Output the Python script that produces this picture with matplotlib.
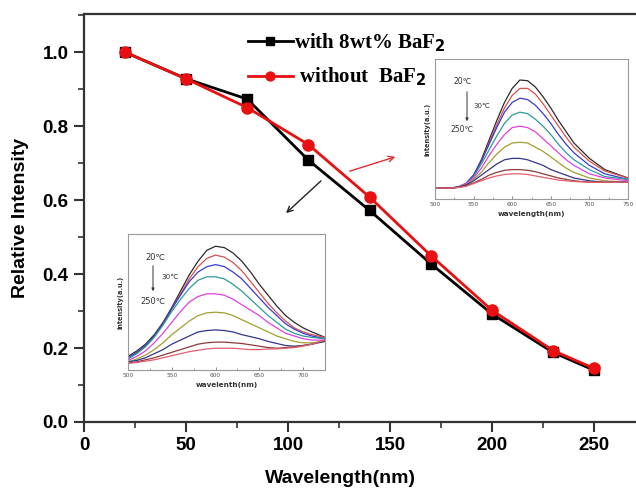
import matplotlib
matplotlib.use("Agg")
import matplotlib.pyplot as plt
from matplotlib.ticker import MultipleLocator

# ---- main data ----
x_temp = [20, 50, 80, 110, 140, 170, 200, 230, 250]
with_baf2 = [1.0, 0.928, 0.873, 0.708, 0.572, 0.428, 0.292, 0.188, 0.140]
without_baf2 = [1.0, 0.928, 0.850, 0.750, 0.608, 0.450, 0.302, 0.193, 0.145]

x_ticks = [0, 50, 100, 150, 200, 250]
y_ticks = [0.0, 0.2, 0.4, 0.6, 0.8, 1.0]

spec_colors = ['#2b2b2b', '#d8514a', '#3a3ad0', '#2e9a9a', '#e040e0',
               '#a0a030', '#34348e', '#8e3a3a', '#e06070']

# ---- upper inset spectra (without BaF2) ----
wl_up = [500, 520, 530, 540, 550, 560, 570, 580, 590, 600, 610, 620, 630,
         640, 650, 660, 670, 680, 700, 720, 750]
up_black = [.076, .078, .085, .11, .17, .28, .42, .56, .69, .79, .85, .845, .80, .73, .65, .56, .48, .40, .29, .21, .15]
up_red = [.076, .078, .085, .11, .17, .27, .40, .53, .65, .74, .79, .79, .75, .68, .60, .52, .44, .37, .27, .20, .15]
up_blue = [.076, .078, .085, .11, .17, .27, .39, .51, .62, .69, .72, .71, .67, .61, .54, .46, .39, .33, .24, .18, .14]
up_teal = [.076, .078, .085, .11, .16, .25, .35, .45, .54, .60, .62, .61, .57, .52, .46, .39, .33, .28, .21, .16, .14]
up_magenta = [.076, .078, .085, .11, .15, .22, .31, .39, .46, .51, .52, .51, .48, .43, .38, .33, .28, .24, .18, .15, .13]
up_olive = [.076, .078, .085, .10, .14, .19, .26, .32, .37, .40, .405, .40, .37, .34, .30, .26, .22, .19, .15, .13, .12]
up_navy = [.076, .078, .085, .10, .13, .17, .21, .25, .28, .29, .29, .28, .26, .24, .21, .19, .17, .15, .13, .12, .12]
up_brown = [.076, .078, .083, .095, .115, .14, .17, .19, .205, .21, .21, .205, .195, .18, .165, .15, .14, .13, .12, .12, .12]
up_pink = [.076, .078, .082, .09, .11, .13, .15, .165, .175, .18, .18, .175, .165, .155, .145, .135, .13, .125, .12, .12, .12]
up_series = [up_black, up_red, up_blue, up_teal, up_magenta, up_olive, up_navy, up_brown, up_pink]

# ---- lower inset spectra (with BaF2) ----
wl_lo = [500, 510, 520, 530, 540, 550, 560, 570, 580, 590, 600, 610, 620,
         630, 640, 650, 660, 670, 680, 690, 700, 710, 725]
lo_black = [.10, .14, .19, .26, .35, .46, .58, .70, .80, .88, .91, .90, .86, .80, .72, .63, .55, .47, .40, .35, .31, .28, .24]
lo_red = [.09, .13, .18, .25, .34, .45, .56, .67, .76, .82, .845, .83, .79, .73, .65, .57, .49, .42, .36, .31, .28, .26, .24]
lo_blue = [.09, .13, .18, .25, .34, .45, .55, .65, .72, .76, .775, .76, .72, .67, .60, .53, .46, .40, .34, .30, .27, .25, .23]
lo_teal = [.08, .12, .17, .24, .33, .43, .52, .60, .66, .685, .685, .67, .63, .58, .52, .46, .40, .35, .30, .27, .25, .24, .23]
lo_magenta = [.07, .10, .14, .20, .27, .35, .43, .50, .54, .56, .56, .55, .52, .48, .44, .40, .35, .31, .27, .25, .23, .22, .22]
lo_olive = [.06, .08, .11, .15, .20, .26, .31, .36, .40, .42, .425, .42, .40, .37, .34, .31, .28, .25, .23, .21, .20, .20, .21]
lo_navy = [.06, .07, .09, .12, .15, .19, .22, .25, .28, .29, .295, .29, .28, .26, .245, .23, .21, .195, .18, .175, .18, .19, .21]
lo_brown = [.05, .06, .075, .09, .11, .13, .15, .17, .19, .20, .205, .205, .20, .195, .185, .175, .165, .16, .165, .17, .18, .19, .22]
lo_pink = [.05, .055, .065, .075, .09, .105, .12, .135, .145, .155, .16, .16, .16, .155, .15, .15, .155, .155, .16, .165, .175, .19, .22]
lo_series = [lo_black, lo_red, lo_blue, lo_teal, lo_magenta, lo_olive, lo_navy, lo_brown, lo_pink]

W, H = 636, 491
fig = plt.figure(figsize=(W / 100, H / 100), dpi=100)
fig.patch.set_facecolor('white')


def fx(px):
    return px / W


def fy(py):
    return 1 - py / H


sans = 'Liberation Sans'
serif = 'Liberation Serif'

ax = fig.add_axes([fx(84), fy(422), (640 - 84) / W, (422 - 14) / H])
xmax = (640 - 84) / 2.04
ax.set_xlim(0, xmax)
ax.set_ylim(0, 1.103)
ax.spines['right'].set_visible(False)
for s in ['left', 'bottom', 'top']:
    ax.spines[s].set_linewidth(1.6)
    ax.spines[s].set_color('#333333')

ax.plot(x_temp, with_baf2, color='black', lw=2.0, marker='s', ms=7,
        label='with 8wt% BaF$_\\mathbf{2}$', zorder=3)
ax.plot(x_temp, without_baf2, color='#e81010', lw=2.0, marker='o', ms=8,
        label=' without  BaF$_\\mathbf{2}$', zorder=3)

ax.set_xticks(x_ticks)
ax.set_yticks(y_ticks)
ax.set_yticklabels(['%.1f' % v for v in y_ticks])
ax.xaxis.set_minor_locator(MultipleLocator(25))
ax.yaxis.set_minor_locator(MultipleLocator(0.1))
ax.tick_params(which='major', direction='out', length=7, width=1.5, color='#333333',
               labelsize=13.5, pad=4)
ax.tick_params(which='minor', direction='out', length=4, width=1.2, color='#333333')
ax.tick_params(top=False, which='both')
for lab in ax.get_xticklabels() + ax.get_yticklabels():
    lab.set_fontfamily(sans)
    lab.set_fontweight('bold')
ax.set_xlabel('Wavelength(nm)', fontsize=14, fontweight='bold', family=sans)
ax.set_ylabel('Relative Intensity', fontsize=14, fontweight='bold', family=sans, labelpad=10)
ax.xaxis.set_label_coords((340 - 84) / (640 - 84), -(470 - 422) / (422 - 14))

leg = ax.legend(loc='upper left', bbox_to_anchor=(fx(229), fy(13)),
                bbox_transform=fig.transFigure, frameon=False,
                prop={'family': serif, 'weight': 'bold', 'size': 15},
                handlelength=2.15, handletextpad=0.05, labelspacing=0.55,
                markerscale=0.8)

# arrows in main plot
ax.annotate('', xy=(fx(398), fy(156)), xytext=(fx(347), fy(172)),
            xycoords='figure fraction', textcoords='figure fraction',
            arrowprops=dict(arrowstyle='->', color='#e03030', lw=1.0))
ax.annotate('', xy=(fx(284), fy(215)), xytext=(fx(323), fy(179)),
            xycoords='figure fraction', textcoords='figure fraction',
            arrowprops=dict(arrowstyle='->', color='#222222', lw=1.0))


def style_inset(a, xlim, ticks, xlabel, label_fs):
    a.set_xlim(*xlim)
    a.set_ylim(0, 1)
    a.set_yticks([])
    a.set_xticks(ticks)
    a.xaxis.set_minor_locator(MultipleLocator(25))
    a.tick_params(which='major', direction='in', length=2.5, width=0.6,
                  color='#777777', labelsize=4.2, labelcolor='#555555', pad=2)
    a.tick_params(which='minor', direction='in', length=1.5, width=0.5, color='#777777')
    for s in a.spines.values():
        s.set_linewidth(0.8)
        s.set_color('#999999')
    a.set_xlabel(xlabel, fontsize=label_fs, fontweight='bold', color='#333333', labelpad=3)
    a.set_ylabel('intensity(a.u.)', fontsize=4.8, fontweight='bold', color='#333333', labelpad=3)


cjk = ['DejaVu Sans', 'Noto Sans CJK SC']

# upper inset
a1 = fig.add_axes([fx(435), fy(199), 193 / W, 140 / H])
for ys, c in zip(up_series, spec_colors):
    a1.plot(wl_up, ys, color=c, lw=0.9)
style_inset(a1, (500, 750), [500, 550, 600, 650, 700, 750], 'wavelength(nm)', 5.2)
fig.text(fx(463), fy(82), '20℃', fontsize=5.5, family=cjk, color='#333333', ha='center', va='center')
fig.text(fx(473), fy(106), '30℃', fontsize=5.0, family=cjk, color='#333333', ha='left', va='center')
fig.text(fx(462), fy(130), '250℃', fontsize=5.5, family=cjk, color='#333333', ha='center', va='center')
fig.add_artist(matplotlib.patches.FancyArrowPatch((fx(467), fy(89)), (fx(467), fy(124)),
               transform=fig.transFigure, arrowstyle='-|>', mutation_scale=4,
               color='#333333', lw=0.7))

# lower inset
a2 = fig.add_axes([fx(128), fy(370), 197 / W, 136 / H])
for ys, c in zip(lo_series, spec_colors):
    a2.plot(wl_lo, ys, color=c, lw=0.9)
style_inset(a2, (500, 725), [500, 550, 600, 650, 700], 'wavelenth(nm)', 5.2)
fig.text(fx(155), fy(257), '20℃', fontsize=6, family=cjk, color='#333333', ha='center', va='center')
fig.text(fx(161), fy(277), '30℃', fontsize=5.2, family=cjk, color='#333333', ha='left', va='center')
fig.text(fx(153), fy(301), '250℃', fontsize=6, family=cjk, color='#333333', ha='center', va='center')
fig.add_artist(matplotlib.patches.FancyArrowPatch((fx(153), fy(263)), (fx(153), fy(294)),
               transform=fig.transFigure, arrowstyle='-|>', mutation_scale=4,
               color='#333333', lw=0.7))

fig.savefig('out.png', dpi=100, facecolor='white')
